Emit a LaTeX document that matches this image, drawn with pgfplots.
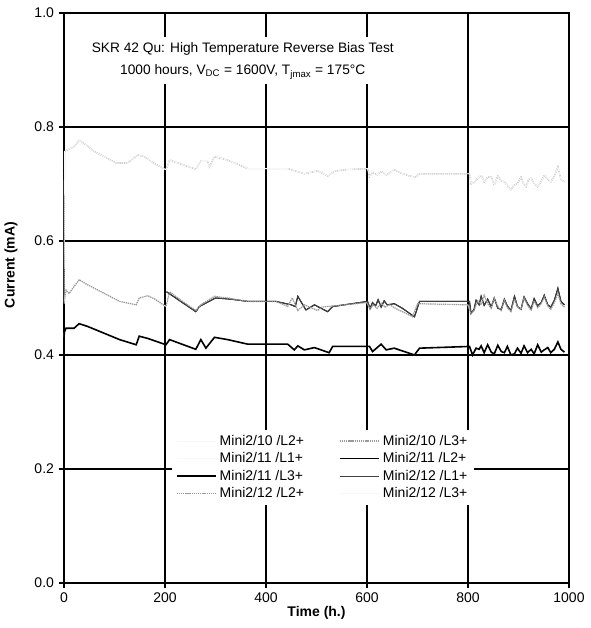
\documentclass[border=0pt]{standalone}
\usepackage{pgfplots}
\pgfplotsset{compat=1.18}
\usepackage{pgfplotstable}
\usepackage{fontspec}
\setmainfont{Liberation Sans}

\pgfplotstableread{
x y
0 0.495
1 0.757
7 0.760
20 0.765
30 0.777
40 0.771
60 0.757
80 0.748
103 0.737
126 0.737
146 0.751
159 0.748
179 0.736
202 0.725
209 0.742
225 0.737
261 0.726
271 0.741
284 0.741
288 0.730
298 0.748
324 0.742
364 0.727
443 0.727
476 0.718
502 0.723
522 0.714
535 0.722
555 0.725
601 0.727
605 0.713
611 0.720
620 0.716
628 0.722
638 0.716
654 0.725
668 0.719
684 0.714
697 0.712
703 0.718
803 0.718
806 0.700
812 0.702
819 0.710
826 0.715
832 0.704
839 0.712
846 0.713
852 0.698
859 0.714
866 0.705
872 0.704
878 0.697
885 0.690
892 0.698
898 0.701
905 0.712
910 0.700
915 0.695
920 0.708
925 0.710
932 0.700
938 0.695
945 0.705
951 0.716
958 0.708
964 0.704
970 0.712
978 0.730
984 0.708
991 0.704
}\toptab

\pgfplotstableread{
x y
0 0.490
1 0.496
4 0.514
10 0.508
20 0.520
30 0.532
47 0.523
80 0.508
110 0.494
143 0.488
149 0.500
166 0.504
180 0.498
202 0.485
209 0.511
230 0.497
261 0.478
271 0.488
298 0.503
324 0.500
364 0.494
376 0.494
420 0.494
443 0.485
452 0.500
463 0.478
476 0.488
502 0.478
510 0.484
600 0.492
606 0.480
612 0.488
620 0.482
628 0.491
636 0.484
645 0.488
660 0.480
675 0.474
690 0.467
700 0.490
800 0.488
806 0.472
812 0.478
819 0.495
826 0.488
832 0.505
839 0.490
846 0.482
852 0.500
859 0.485
866 0.478
872 0.496
878 0.483
885 0.476
892 0.498
898 0.484
905 0.480
911 0.500
918 0.487
925 0.478
931 0.495
938 0.483
945 0.490
951 0.502
958 0.486
964 0.480
971 0.492
978 0.508
984 0.490
991 0.484
}\midgray

\pgfplotstableread{
x y
203 0.511
261 0.476
268 0.485
300 0.500
330 0.498
364 0.494
420 0.494
450 0.488
458 0.485
463 0.503
479 0.479
496 0.488
522 0.476
532 0.485
601 0.494
606 0.482
611 0.492
617 0.486
622 0.497
628 0.484
634 0.495
640 0.488
654 0.490
670 0.482
694 0.467
704 0.494
803 0.494
806 0.473
812 0.480
816 0.496
822 0.488
826 0.503
832 0.487
839 0.498
846 0.484
852 0.500
859 0.482
866 0.480
872 0.498
878 0.486
885 0.478
892 0.503
898 0.485
905 0.480
911 0.502
918 0.490
925 0.481
931 0.499
938 0.486
945 0.492
951 0.505
958 0.488
964 0.484
971 0.496
978 0.517
984 0.494
991 0.488
}\midblack

\pgfplotstableread{
x y
0 0.432
1 0.441
4 0.447
20 0.447
30 0.455
47 0.450
80 0.438
110 0.427
143 0.418
149 0.433
166 0.429
202 0.418
209 0.427
261 0.410
271 0.427
281 0.412
298 0.431
324 0.427
364 0.419
443 0.419
456 0.409
463 0.416
476 0.409
496 0.413
525 0.404
532 0.415
605 0.415
611 0.406
628 0.419
638 0.409
654 0.412
694 0.400
704 0.412
803 0.415
809 0.400
816 0.412
822 0.410
826 0.416
832 0.404
839 0.418
846 0.405
852 0.402
859 0.417
866 0.406
872 0.404
878 0.415
885 0.400
892 0.402
898 0.412
905 0.403
911 0.416
918 0.404
925 0.410
931 0.402
938 0.418
945 0.405
951 0.409
958 0.413
964 0.404
971 0.410
978 0.423
984 0.410
991 0.405
}\bottab

\begin{document}
\begin{tikzpicture}
\begin{axis}[
  scale only axis,
  width=378.75pt, height=427.5pt,
  xmin=0, xmax=1000, ymin=0, ymax=1,
  xtick={0,200,...,1000},
  ytick={0,0.2,...,1.0},
  xticklabel style={/pgf/number format/1000 sep={}},
  yticklabel style={/pgf/number format/fixed, /pgf/number format/fixed zerofill, /pgf/number format/precision=1},
  /pgf/number format/assume math mode=true,
  tick label style={font=\fontsize{10.5}{12}\selectfont},
  tick align=outside,
  major tick length=4pt,
  tick style={black, line width=0.8pt},
  xtick pos=bottom, ytick pos=left,
  grid=major,
  major grid style={black, line width=0.9pt},
  axis line style={black, line width=0.9pt},
  xlabel={\bfseries Time (h.)},
  ylabel={\bfseries Current (mA)},
  label style={font=\fontsize{10.5}{12}\selectfont},
  xlabel style={at={(rel axis cs:0.5,-0.052)}, anchor=center},
  ylabel style={at={(rel axis cs:-0.105,0.558)}, anchor=center},
  clip mode=individual,
  legend columns=2,
  legend cell align=left,
  legend style={at={(axis cs:513,0.203)}, anchor=center, draw=none, fill=white,
    font=\fontsize{10.5}{11}\selectfont, row sep=0pt,
    /tikz/every even column/.append style={column sep=24pt}},
  legend image code/.code={\draw[#1] (0cm,0cm) -- (1.05cm,0cm);},
]
\addplot[gray!6, line width=0.6pt] table {\midgray};
\addlegendentry{Mini2/10 /L2+}
\addplot[gray!80, dash pattern=on 1pt off 0.6pt, line width=0.9pt] table {\toptab};
\addlegendentry{Mini2/10 /L3+}
\addplot[gray!6, line width=0.6pt] table {\bottab};
\addlegendentry{Mini2/11 /L1+}
\addplot[black, line width=1.2pt] table {\bottab};
\addlegendentry{Mini2/11 /L2+}
\addplot[black, line width=0.8pt] table {\midblack};
\addlegendentry{Mini2/11 /L3+}
\addplot[black!75, line width=0.7pt] table {\midblack};
\addlegendentry{Mini2/12 /L1+}
\addplot[gray!80, dash pattern=on 1pt off 0.6pt, line width=0.9pt] table {\midgray};
\addlegendentry{Mini2/12 /L2+}
\addplot[gray!6, line width=0.6pt] table {\toptab};
\addlegendentry{Mini2/12 /L3+}

\node[align=center, fill=white, inner sep=4pt, font=\fontsize{10.3}{16.5}\selectfont] at (axis cs:354,0.916)
  {SKR 42 Qu: High Temperature Reverse Bias Test\\
   1000 hours, V\textsubscript{DC} = 1600V, T\textsubscript{jmax} = 175°C};
\path (rel axis cs:-0.12475,-0.07895) rectangle (rel axis cs:1.04356,1.02281);
\end{axis}
\end{tikzpicture}
\end{document}
